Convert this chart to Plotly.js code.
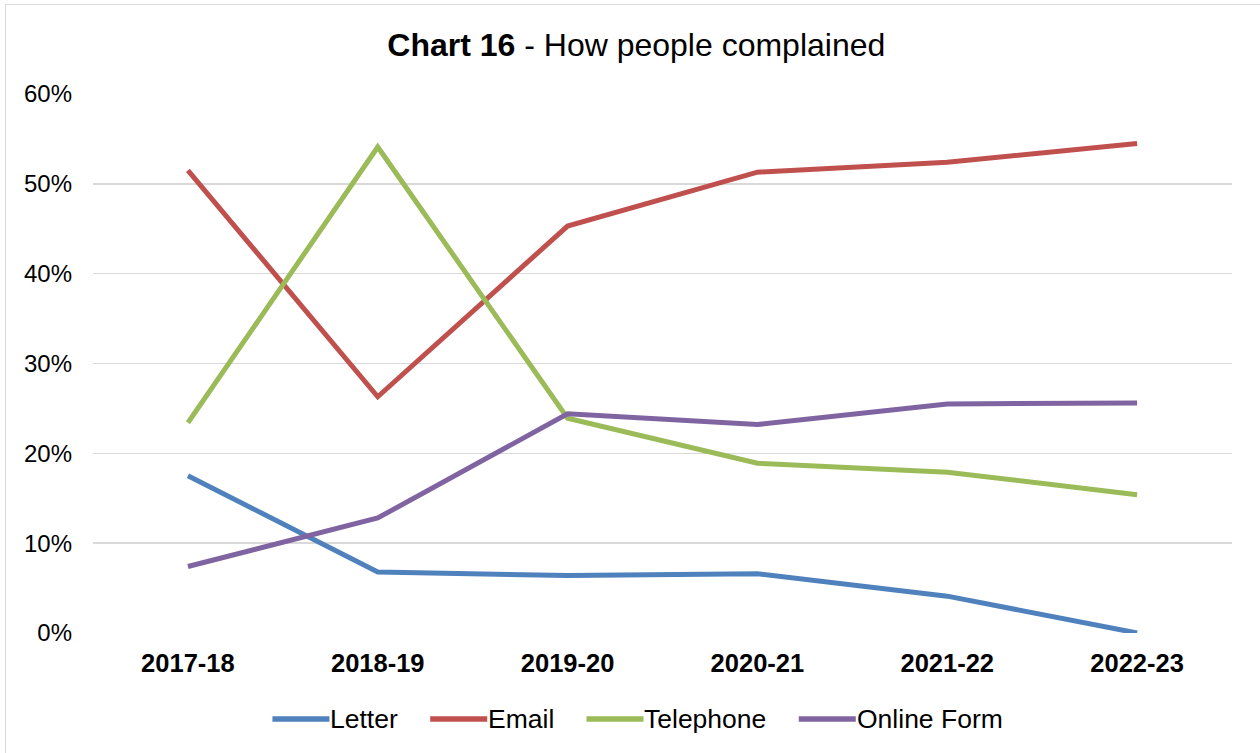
<!DOCTYPE html>
<html>
<head>
<meta charset="utf-8">
<script src="https://cdn.plot.ly/plotly-3.0.1.min.js"></script>
<style>
html,body{margin:0;padding:0;background:#fff;}
#wrap{position:relative;width:1260px;height:753px;overflow:hidden;}
#chart{width:1260px;height:753px;}
#frame{position:absolute;left:5px;top:4px;width:1300px;height:800px;border-left:1px solid #d9d9d9;border-top:1px solid #d9d9d9;pointer-events:none;}
</style>
</head>
<body>
<div id="wrap"><div id="chart"></div><div id="frame"></div></div>
<script>
const years = ["2017-18","2018-19","2019-20","2020-21","2021-22","2022-23"];
const seriesNames = ["Letter", "Email", "Telephone", "Online Form"];
const letter = [0.175, 0.068, 0.064, 0.066, 0.041, 0.000];
const email = [0.515, 0.263, 0.453, 0.513, 0.524, 0.545];
const telephone = [0.234, 0.541, 0.239, 0.189, 0.179, 0.154];
const onlineForm = [0.074, 0.128, 0.244, 0.232, 0.255, 0.256];
const colors = ['#4F81BD', '#C0504D', '#9BBB59', '#8064A2'];

const values = [letter, email, telephone, onlineForm];
const data = values.map((y, i) => ({
  x: years, y: y, name: seriesNames[i], type: 'scatter', mode: 'lines',
  line: {color: colors[i], width: 5}, showlegend: false
}));

// layout geometry
const W = 1260, H = 753;
const M = {l: 93, r: 28, t: 94, b: 120};
const plotW = W - M.l - M.r, plotH = H - M.t - M.b;
const FONT = 'Liberation Sans, Arial, sans-serif';
const legFont = 26.5;

// custom legend (Excel-like: long line swatches, wide spacing)
const cv = document.createElement('canvas').getContext('2d');
cv.font = legFont + 'px "Liberation Sans", Arial, sans-serif';
const lineLen = 57, textGap = 0, itemGap = 33, legCenter = 637, legY = 719;
const widths = seriesNames.map(n => cv.measureText(n).width);
const total = widths.reduce((a, w) => a + lineLen + textGap + w, 0) + itemGap * (seriesNames.length - 1);
let cx = legCenter - total / 2;
const shapes = [], annotations = [];
const px2x = p => (p - M.l) / plotW;
const py2y = p => (H - M.b - p) / plotH;
seriesNames.forEach((n, i) => {
  shapes.push({type: 'line', xref: 'paper', yref: 'paper', x0: px2x(cx), x1: px2x(cx + lineLen),
               y0: py2y(legY), y1: py2y(legY), line: {color: colors[i], width: 5.5}});
  annotations.push({xref: 'paper', yref: 'paper', x: px2x(cx + lineLen + textGap), y: py2y(legY),
                    xanchor: 'left', yanchor: 'middle', showarrow: false, text: n, borderpad: 0,
                    font: {size: legFont, color: '#000', family: FONT}});
  cx += lineLen + textGap + widths[i] + itemGap;
});

const layout = {
  width: W, height: H,
  margin: M,
  paper_bgcolor: '#fff', plot_bgcolor: '#fff',
  font: {family: FONT, color: '#000', size: 24},
  title: {text: '<b>Chart 16</b> - How people complained', x: 0.505, xanchor: 'center', y: 0.941, yanchor: 'middle', font: {size: 32, color: '#000'}},
  xaxis: {type: 'category', range: [-0.5, 5.5], showgrid: false, zeroline: false, showline: false,
          tickfont: {size: 25.5, color: '#000', weight: 'bold'}, ticks: '', ticklabelstandoff: 12},
  yaxis: {range: [0, 0.6], dtick: 0.1, tickformat: '.0%', showgrid: true, gridcolor: '#d9d9d9', gridwidth: 1.5,
          zeroline: false, showline: false, ticks: '', tickfont: {size: 24, color: '#000'}, ticklabelstandoff: 20},
  shapes: shapes,
  annotations: annotations,
  showlegend: false
};

Plotly.newPlot('chart', data, layout, {displayModeBar: false, staticPlot: true});
</script>
</body>
</html>
